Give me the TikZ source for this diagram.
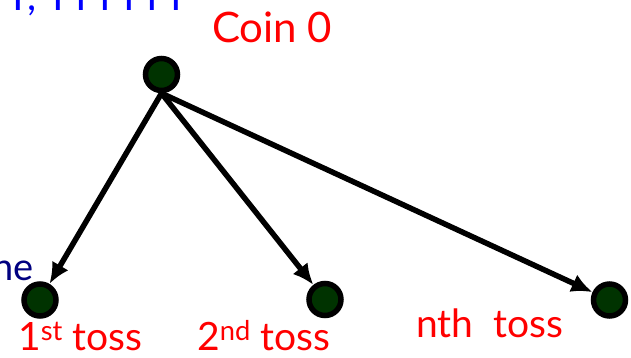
\documentclass[tikz,border=0pt]{standalone}
\usepackage{fontspec}
\setmainfont{Lato}
\usetikzlibrary{arrows.meta}
\definecolor{nodegreen}{RGB}{0,51,0}
\definecolor{lblred}{RGB}{255,0,0}
\definecolor{topblue}{RGB}{0,0,255}
\definecolor{navyblue}{RGB}{0,0,128}
\tikzset{
  dot/.style={circle, draw=black, line width=5.5pt, fill=nodegreen, minimum size=32pt, inner sep=0pt},
  lbl/.style={text=lblred, font=\fontsize{39}{42}\selectfont, inner sep=0pt, anchor=base west},
  conn/.style={line width=5.5pt, -{Latex[length=21pt,width=19pt]}}
}
\begin{document}
\begin{tikzpicture}[x=1pt,y=-1pt]
\useasboundingbox (0,0) rectangle (631,358);
\clip (0,0) rectangle (631,358);
\node[anchor=base west, inner sep=0pt, text=topblue, font=\fontsize{40}{44}\selectfont] (toptext) at (6,11) {T, TTTTTT};
\node[anchor=base east, inner sep=0pt, text=navyblue, font=\fontsize{38}{42}\selectfont] (ne) at (34,280) {ne};
\node[dot] (top) at (161.5,74.5) {};
\node[dot] (n1) at (40,300) {};
\node[dot] (n2) at (325,299.5) {};
\node[dot] (n3) at (609.5,300) {};
\node[lbl, font=\fontsize{42}{46}\selectfont] (coin) at (212,43) {Coin 0};
\node[lbl] (l1) at (18,350) {1\textsuperscript{st} toss};
\node[lbl] (l2) at (197,350) {2\textsuperscript{nd} toss};
\node[lbl] (l3) at (416,337) {nth\ \ toss};
\draw[conn] (top.south) -- (n1);
\draw[conn] (top.south) -- (n2);
\draw[conn] (top.south) -- (n3);
\end{tikzpicture}
\end{document}
